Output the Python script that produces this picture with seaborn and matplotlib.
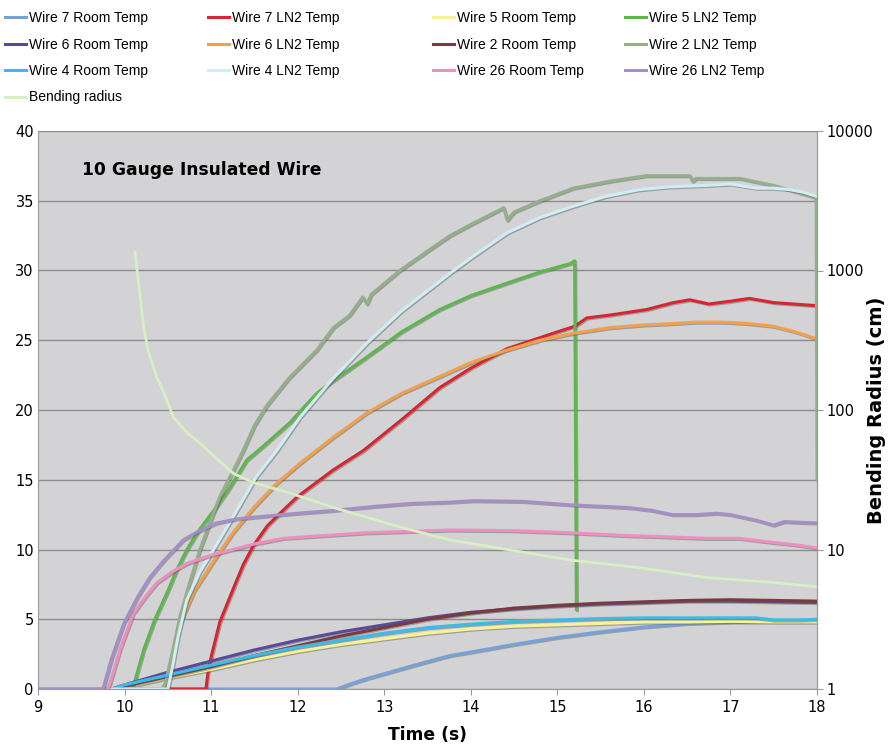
import matplotlib
matplotlib.use("Agg")
import matplotlib.pyplot as plt
import matplotlib.patheffects as pe
from matplotlib.lines import Line2D
from matplotlib.ticker import FixedLocator, NullLocator, FixedFormatter
import pandas as pd
import seaborn as sns

# series names (legend order, also drawing order)
names = ["Wire 7 Room Temp", "Wire 7 LN2 Temp", "Wire 5 Room Temp", "Wire 5 LN2 Temp",
         "Wire 6 Room Temp", "Wire 6 LN2 Temp", "Wire 2 Room Temp", "Wire 2 LN2 Temp",
         "Wire 4 Room Temp", "Wire 4 LN2 Temp", "Wire 26 Room Temp", "Wire 26 LN2 Temp"]
colors = ["#74a3d9", "#d8262e", "#f6f29a", "#5cb84a",
          "#5a4a9a", "#f4a04a", "#7a3b3f", "#94b08a",
          "#3bbbe6", "#d0ecf5", "#ee8fc0", "#a58fc8"]
bend_color = "#d8efc4"

# temperature readings (time in s)
w7_room_t = [9, 12.45, 12.6, 12.8, 13.0, 13.4, 13.76, 14, 14.5, 15, 15.5, 16, 16.5, 17, 17.5, 18]
w7_room_v = [0, 0, 0.35, 0.75, 1.1, 1.8, 2.4, 2.65, 3.2, 3.7, 4.1, 4.45, 4.7, 4.8, 4.85, 4.85]

w7_ln2_t = [9, 10.94, 10.97, 11.02, 11.1, 11.25, 11.37, 11.49, 11.65, 11.83, 12.0, 12.41, 12.76, 13.2,
            13.64, 14.0, 14.42, 15.0, 15.2, 15.34, 15.6, 16.03, 16.34, 16.53, 16.75, 17.0, 17.22, 17.5,
            17.95, 18]
w7_ln2_v = [0, 0, 1.5, 2.8, 4.8, 7.1, 8.9, 10.3, 11.7, 12.8, 13.8, 15.7, 17.1, 19.3,
            21.6, 23.0, 24.4, 25.6, 26.0, 26.6, 26.8, 27.2, 27.7, 27.9, 27.6, 27.8, 28.0, 27.7,
            27.5, 27.5]

w5_room_t = [9, 9.9, 10, 10.5, 11, 11.5, 12, 12.5, 13, 13.5, 14, 14.5, 15, 15.5, 16, 16.5, 17, 17.5, 18]
w5_room_v = [0, 0, 0.1, 0.8, 1.4, 2.1, 2.7, 3.2, 3.6, 4.0, 4.3, 4.5, 4.6, 4.7, 4.8, 4.8, 4.85, 4.8, 4.8]

w5_ln2_t = [9, 10.08, 10.12, 10.22, 10.35, 10.49, 10.6, 10.72, 10.85, 11.03, 11.2, 11.41, 11.6, 11.91,
            12.22, 12.41, 12.8, 13.2, 13.64, 14.0, 14.42, 14.8, 15.15, 15.2, 15.22]
w5_ln2_v = [0, 0, 0.6, 2.8, 5.0, 6.9, 8.5, 10.0, 11.3, 12.8, 14.3, 16.4, 17.4, 19.1,
            21.2, 22.1, 23.8, 25.6, 27.2, 28.2, 29.1, 29.9, 30.5, 30.7, 5.7]

w6_room_t = [9, 9.85, 10, 10.5, 11, 11.5, 12, 12.5, 13, 13.5, 14, 14.5, 15, 15.5, 16, 16.5, 17, 17.5, 18]
w6_room_v = [0, 0, 0.3, 1.2, 2.0, 2.8, 3.5, 4.1, 4.6, 5.1, 5.5, 5.75, 5.95, 6.1, 6.2, 6.3, 6.3, 6.25, 6.2]

w6_ln2_t = [9, 10.45, 10.5, 10.57, 10.64, 10.8, 11.03, 11.25, 11.49, 11.75, 12.03, 12.4, 12.8, 13.2,
            13.64, 14.0, 14.42, 14.8, 15.18, 15.6, 16.0, 16.34, 16.6, 16.92, 17.2, 17.5, 17.75, 17.95, 18]
w6_ln2_v = [0, 0, 0.6, 2.8, 4.7, 7.0, 9.2, 11.2, 13.0, 14.7, 16.2, 18.0, 19.8, 21.2,
            22.4, 23.4, 24.3, 25.0, 25.5, 25.9, 26.1, 26.2, 26.3, 26.3, 26.2, 26.0, 25.6, 25.2, 25.1]

w2_room_t = [9, 9.9, 10, 10.5, 11, 11.5, 12, 12.5, 13, 13.5, 14, 14.5, 15, 15.5, 16, 16.5, 17, 17.5, 18]
w2_room_v = [0, 0, 0.2, 0.9, 1.6, 2.4, 3.1, 3.8, 4.4, 5.0, 5.45, 5.8, 6.0, 6.15, 6.25, 6.35, 6.4, 6.35, 6.3]

w2_ln2_t = [9, 10.43, 10.47, 10.55, 10.64, 10.75, 10.87, 11.1, 11.25, 11.37, 11.5, 11.64, 11.9, 12.22,
            12.41, 12.6, 12.75, 12.8, 12.85, 13.18, 13.5, 13.76, 14.0, 14.38, 14.42, 14.5, 14.8, 15.18,
            15.6, 16.03, 16.53, 16.56, 16.6, 17.11, 17.5, 17.95, 17.99, 18.0]
w2_ln2_v = [0, 0, 0.4, 2.6, 5.2, 7.6, 10.0, 13.8, 15.6, 17.1, 18.9, 20.3, 22.3, 24.3,
            25.9, 26.8, 28.1, 27.6, 28.3, 30.0, 31.4, 32.5, 33.3, 34.5, 33.6, 34.2, 35.0, 35.9,
            36.4, 36.8, 36.8, 36.4, 36.6, 36.6, 36.1, 35.3, 35.2, 15.0]

w4_room_t = [9, 9.85, 10, 10.5, 11, 11.5, 12, 12.5, 13, 13.5, 14, 14.5, 15, 15.5, 16, 16.5, 17, 17.3,
             17.5, 17.8, 18]
w4_room_v = [0, 0, 0.3, 1.0, 1.7, 2.4, 3.0, 3.5, 4.0, 4.4, 4.65, 4.85, 4.95, 5.05, 5.1, 5.1, 5.1, 5.1,
             4.95, 4.95, 5.0]

w4_ln2_t = [9, 10.5, 10.55, 10.62, 10.72, 10.87, 11.03, 11.25, 11.52, 11.76, 12.03, 12.4, 12.8, 13.2,
            13.76, 14.0, 14.42, 14.8, 15.18, 15.55, 15.95, 16.3, 16.72, 17.0, 17.3, 17.5, 17.68, 17.85, 18]
w4_ln2_v = [0, 0, 1.5, 3.8, 6.4, 8.4, 10.0, 12.3, 15.2, 17.1, 19.5, 22.2, 24.8, 27.1,
            29.8, 30.9, 32.7, 33.8, 34.6, 35.3, 35.8, 36.0, 36.1, 36.2, 35.9, 35.9, 35.8, 35.6, 35.3]

w26_room_t = [9, 9.8, 9.83, 9.95, 10.1, 10.25, 10.37, 10.55, 10.72, 11.0, 11.25, 11.5, 11.83, 12.3, 12.8,
              13.3, 13.76, 14.5, 15.15, 15.8, 16.3, 16.72, 17.1, 17.5, 17.8, 18]
w26_room_v = [0, 0, 0.4, 2.9, 5.4, 6.7, 7.6, 8.4, 9.0, 9.6, 10.0, 10.4, 10.8, 11.0, 11.2,
              11.3, 11.4, 11.35, 11.2, 11.0, 10.9, 10.8, 10.8, 10.5, 10.3, 10.1]

w26_ln2_t = [9, 9.75, 9.85, 9.99, 10.15, 10.29, 10.45, 10.68, 10.85, 11.06, 11.3, 11.64, 12.0, 12.41,
             12.9, 13.3, 13.76, 14.03, 14.6, 15.15, 15.5, 15.83, 16.1, 16.33, 16.6, 16.84, 17.0, 17.3,
             17.5, 17.62, 17.8, 18]
w26_ln2_v = [0, 0, 2.2, 4.7, 6.6, 8.0, 9.2, 10.7, 11.3, 11.9, 12.2, 12.4, 12.6, 12.8,
             13.1, 13.3, 13.4, 13.5, 13.45, 13.2, 13.1, 13.0, 12.8, 12.5, 12.5, 12.6, 12.5, 12.1,
             11.75, 12.0, 11.95, 11.9]

# bending radius (cm), right log axis
bend_t = [10.12, 10.14, 10.18, 10.22, 10.27, 10.37, 10.49, 10.56, 10.72, 10.87, 11.06, 11.26, 11.5,
          11.91, 12.41, 12.8, 13.18, 13.76, 14.42, 15.15, 15.95, 16.72, 17.5, 18]
bend_v = [1358, 1059, 646, 394, 269, 173, 118, 89, 69, 58, 45, 35, 30,
          25.4, 20, 17, 14.5, 11.7, 10, 8.4, 7.4, 6.3, 5.8, 5.4]

series_t = [w7_room_t, w7_ln2_t, w5_room_t, w5_ln2_t, w6_room_t, w6_ln2_t,
            w2_room_t, w2_ln2_t, w4_room_t, w4_ln2_t, w26_room_t, w26_ln2_t]
series_v = [w7_room_v, w7_ln2_v, w5_room_v, w5_ln2_v, w6_room_v, w6_ln2_v,
            w2_room_v, w2_ln2_v, w4_room_v, w4_ln2_v, w26_room_v, w26_ln2_v]

temp_df = pd.concat([pd.DataFrame({"Time": t, "Value": v, "Series": n})
                     for n, t, v in zip(names, series_t, series_v)], ignore_index=True)
bend_df = pd.DataFrame({"Time": bend_t, "Radius": bend_v})

fig = plt.figure(figsize=(8.89, 7.46), dpi=100)
ax = fig.add_axes([38 / 889, 57 / 746, 779 / 889, 558 / 746])
ax.set_facecolor("#d3d3d5")

sns.lineplot(data=temp_df, x="Time", y="Value", hue="Series", hue_order=names,
             palette=dict(zip(names, colors)), estimator=None, sort=False,
             linewidth=2.2, legend=False, ax=ax)
for line in ax.get_lines():
    line.set_solid_joinstyle("round")
    line.set_path_effects([pe.SimpleLineShadow(offset=(0.8, -0.8), shadow_color="0.35", alpha=0.45),
                           pe.Normal()])

ax.set_xlim(9, 18)
ax.set_ylim(0, 40)
ax.set_xticks(range(9, 19))
ax.set_yticks(range(0, 41, 5))
ax.yaxis.grid(True, color="#8c8c8c", linewidth=1)
ax.set_axisbelow(True)
for s in ["left", "bottom", "right"]:
    ax.spines[s].set_color("#9a9a9a")
ax.spines["top"].set_visible(False)
ax.tick_params(axis="x", length=4, color="#9a9a9a", labelsize=10.5, pad=4)
ax.tick_params(axis="y", length=0, labelsize=10.5, pad=3)
ax.set_xlabel("Time (s)", fontsize=12.3, fontweight="bold", labelpad=8)
ax.set_ylabel("")

ax2 = ax.twinx()
sns.lineplot(data=bend_df, x="Time", y="Radius", color=bend_color, linewidth=2,
             estimator=None, sort=False, ax=ax2)
ax2.set_yscale("log")
ax2.set_ylim(1, 10000)
ax2.yaxis.set_major_locator(FixedLocator([1, 10, 100, 1000, 10000]))
ax2.yaxis.set_major_formatter(FixedFormatter(["1", "10", "100", "1000", "10000"]))
ax2.yaxis.set_minor_locator(NullLocator())
ax2.tick_params(axis="y", length=4, color="#9a9a9a", labelsize=10.5, pad=3)
for s in ["left", "bottom", "top"]:
    ax2.spines[s].set_visible(False)
ax2.spines["right"].set_color("#9a9a9a")
ax2.set_ylabel("Bending Radius (cm)", fontsize=14, fontweight="bold")
ax2.yaxis.set_label_coords(1.064, 0.5)
ax2.set_xlim(9, 18)

fig.text(82 / 889, 1 - 170 / 746, "10 Gauge Insulated Wire", fontsize=12.3, fontweight="bold",
         va="center", ha="left")

# legend: four columns placed like the original
leg_font = {"family": ["Liberation Sans", "DejaVu Sans"], "size": 10}
all_names = names + ["Bending radius"]
all_colors = colors + [bend_color]
col_x = [5, 208, 433, 625]
for c in range(4):
    idx = [i for i in range(c, len(all_names), 4)]
    handles = [Line2D([], [], color=all_colors[i], linewidth=2.2) for i in idx]
    fig.legend(handles, [all_names[i] for i in idx], loc="upper left",
               bbox_to_anchor=(col_x[c] / 889, 1 - 11 / 746), frameon=False,
               borderpad=0, borderaxespad=0, handlelength=1.5, handletextpad=0.25,
               labelspacing=0.9, prop=leg_font)

fig.savefig("out.png", dpi=100)
